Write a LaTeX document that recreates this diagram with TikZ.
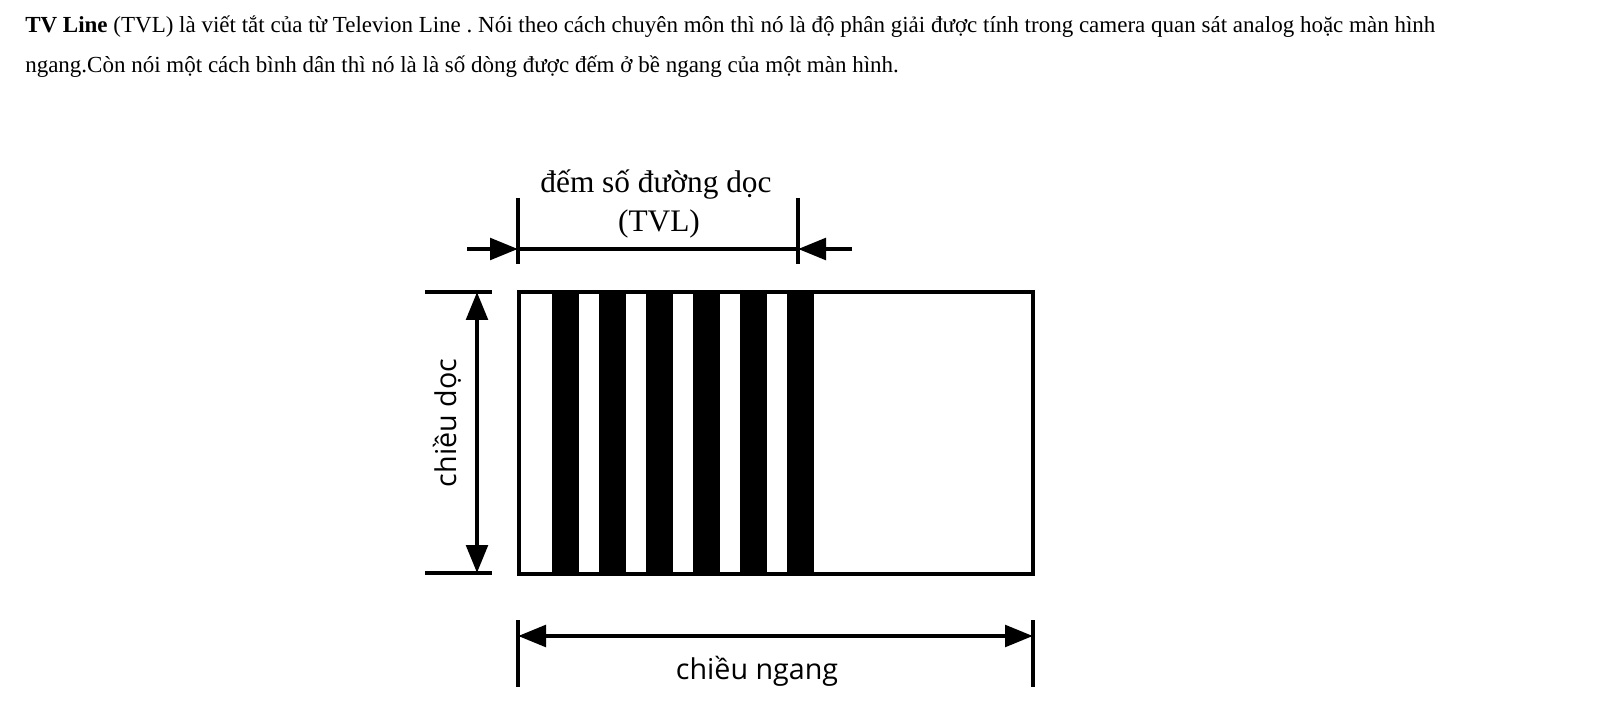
\documentclass[tikz,border=0pt]{standalone}
\usepackage{fontspec}
\setmainfont{Liberation Serif}
\newfontfamily\labelsans{Open Sans}
\usetikzlibrary{arrows.meta}
\tikzset{
  para text/.style={
    anchor=base west,
    inner sep=0pt,
    font=\fontsize{17.25}{21}\selectfont
  },
  serif label/.style={
    anchor=base,
    inner sep=0pt,
    font=\fontsize{23.5}{28}\selectfont
  },
  sans label/.style={
    anchor=base,
    inner sep=0pt,
    font=\labelsans\fontsize{21.5}{26}\selectfont
  },
  frame/.style={
    draw=black,
    line width=3.6pt
  },
  tick line/.style={
    line width=2.8pt
  },
  dim line/.style={
    line width=3.4pt
  },
  dim arrow/.style={
    -{Triangle[length=21pt, width=16pt]},
    line width=3.4pt
  },
  dim both/.style={
    {Triangle[length=21pt, width=16pt]}-{Triangle[length=21pt, width=16pt]},
    line width=3.4pt
  }
}

\begin{document}
\frenchspacing
\begin{tikzpicture}[x=0.75pt, y=-0.75pt]
    \useasboundingbox (0,0) rectangle (1597,709);

    % đoạn văn phía trên
    \node[para text] (line1) at (25,33) {\textbf{TV Line} (TVL) là viết tắt của từ Televion Line . Nói theo cách chuyên môn thì nó là độ phân giải được tính trong camera quan sát analog hoặc màn hình};
    \node[para text] (line2) at (25,73) {ngang.Còn nói một cách bình dân thì nó là là số dòng được đếm ở bề ngang của một màn hình.};

    % màn hình với các sọc đen
    \coordinate (tl) at (519,292);
    \coordinate (br) at (1033,574);
    \foreach \x in {552,599,646,693,740,787} {
      \fill[black] (\x,292) rectangle ++(27,282);
    }
    \draw[frame] (tl) rectangle (br);

    % kích thước TVL phía trên
    \coordinate (tvlL) at (518,249);
    \coordinate (tvlR) at (798,249);
    \draw[tick line] (tvlL) ++(0,-51) -- ++(0,66);
    \draw[tick line] (tvlR) ++(0,-51) -- ++(0,66);
    \draw[dim line] (tvlL) -- (tvlR);
    \draw[dim arrow] (tvlL) ++(-51,0) -- (tvlL);
    \draw[dim arrow] (tvlR) ++(54,0) -- (tvlR);
    \node[serif label] (tvltext) at (656,193) {đếm số đường dọc};
    \node[serif label] (tvlabbr) at (659,232) {(TVL)};

    % chiều dọc
    \coordinate (vtop) at (477,292);
    \coordinate (vbot) at (477,573);
    \draw[tick line] (vtop) ++(-52,0) -- ++(67,0);
    \draw[tick line] (vbot) ++(-52,0) -- ++(67,0);
    \draw[dim both] (vtop) -- (vbot);
    \node[sans label, rotate=90] (vtext) at (456,423) {chiều dọc};

    % chiều ngang
    \coordinate (hleft) at (518,636);
    \coordinate (hright) at (1033,636);
    \draw[tick line] (hleft) ++(0,-16) -- ++(0,67);
    \draw[tick line] (hright) ++(0,-16) -- ++(0,67);
    \draw[dim both] (hleft) -- (hright);
    \node[sans label] (htext) at (757,679) {chiều ngang};

  \end{tikzpicture}
\end{document}
